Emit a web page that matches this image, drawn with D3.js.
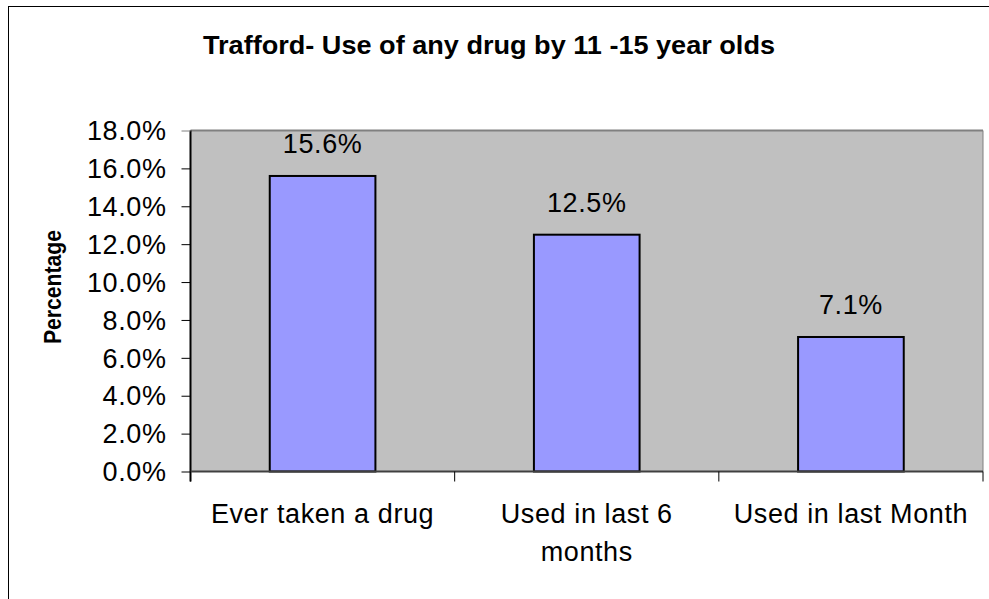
<!DOCTYPE html>
<html>
<head>
<meta charset="utf-8">
<script src="https://cdn.jsdelivr.net/npm/d3@7"></script>
<style>
  html, body { margin: 0; padding: 0; background: #fff; }
  svg { display: block; font-family: Arial, "Liberation Sans", sans-serif; }
</style>
</head>
<body>
<svg id="chart" width="989" height="599"></svg>
<script>
// Survey results: share of 11-15 year olds reporting drug use
const categories = [["Ever taken a drug"], ["Used in last 6", "months"], ["Used in last Month"]];
const values = [15.6, 12.5, 7.1];
const yTicks = [0, 2, 4, 6, 8, 10, 12, 14, 16, 18];
const titleText = "Trafford- Use of any drug by 11 -15 year olds";
const yTitle = "Percentage";

const svg = d3.select("#chart");
const plot = { left: 190.5, top: 130.5, right: 983, bottom: 471.5 };
const LS = "0.6px";

// Outer chart frame (extends past the right and bottom edges)
svg.append("rect")
  .attr("x", 8.5).attr("y", 6.5)
  .attr("width", 1000).attr("height", 700)
  .attr("fill", "#fff").attr("stroke", "#000").attr("stroke-width", 1);

const x = d3.scaleBand()
  .domain(d3.range(categories.length))
  .range([plot.left, plot.right])
  .paddingInner(0.6)
  .paddingOuter(0.3);

const y = d3.scaleLinear().domain([0, 18]).range([plot.bottom, plot.top]);

// Plot area background
svg.append("rect")
  .attr("x", plot.left).attr("y", plot.top)
  .attr("width", plot.right - plot.left).attr("height", plot.bottom - plot.top)
  .attr("fill", "#c0c0c0");

// Plot area top and right border
svg.append("line")
  .attr("x1", plot.left).attr("x2", plot.right)
  .attr("y1", plot.top).attr("y2", plot.top)
  .attr("stroke", "#808080").attr("stroke-width", 2);
svg.append("line")
  .attr("x1", plot.right).attr("x2", plot.right)
  .attr("y1", plot.top).attr("y2", plot.bottom)
  .attr("stroke", "#808080").attr("stroke-width", 1);

// Bars
svg.append("g").selectAll("rect")
  .data(values)
  .join("rect")
  .attr("x", (d, i) => x(i))
  .attr("y", d => y(d))
  .attr("width", x.bandwidth())
  .attr("height", d => y(0) - y(d))
  .attr("fill", "#9999ff")
  .attr("stroke", "#000")
  .attr("stroke-width", 2);

// Value labels
svg.append("g").selectAll("text")
  .data(values)
  .join("text")
  .attr("x", (d, i) => x(i) + x.bandwidth() / 2)
  .attr("y", d => y(d) - 23)
  .attr("text-anchor", "middle")
  .attr("font-size", 27)
  .attr("letter-spacing", LS)
  .attr("fill", "#000")
  .text(d => d.toFixed(1) + "%");

// Y axis
const yAxis = d3.axisLeft(y)
  .tickValues(yTicks)
  .tickSize(9)
  .tickPadding(15)
  .tickFormat(d => d.toFixed(1) + "%");
const gy = svg.append("g")
  .attr("transform", `translate(${plot.left},0)`)
  .call(yAxis);
gy.select(".domain").attr("stroke", "#000").attr("stroke-width", 2)
  .attr("d", `M0,${plot.top}V${plot.bottom + 10}`);
gy.selectAll(".tick line").attr("stroke", "#000");
gy.selectAll(".tick text")
  .attr("font-size", 27)
  .attr("letter-spacing", LS)
  .attr("font-family", "Arial, 'Liberation Sans', sans-serif")
  .attr("fill", "#000")
  .attr("dy", "0.34em");
gy.selectAll(".tick").filter(d => d === 18).select("line").attr("stroke", "#808080");

// X axis baseline and category dividers
const gx = svg.append("g");
gx.append("line")
  .attr("x1", plot.left).attr("x2", plot.right)
  .attr("y1", plot.bottom).attr("y2", plot.bottom)
  .attr("stroke", "#404040").attr("stroke-width", 2);
const step = x.step();
gx.selectAll("line.div")
  .data(d3.range(categories.length + 1))
  .join("line")
  .attr("class", "div")
  .attr("x1", i => plot.left + i * step)
  .attr("x2", i => plot.left + i * step)
  .attr("y1", plot.bottom)
  .attr("y2", plot.bottom + 10)
  .attr("stroke", "#000");

// Category labels
const cl = svg.append("g").selectAll("text")
  .data(categories)
  .join("text")
  .attr("x", (d, i) => x(i) + x.bandwidth() / 2)
  .attr("y", 523)
  .attr("text-anchor", "middle")
  .attr("font-size", 27)
  .attr("letter-spacing", LS)
  .attr("fill", "#000");
cl.selectAll("tspan")
  .data(d => d)
  .join("tspan")
  .attr("x", function () { return d3.select(this.parentNode).attr("x"); })
  .attr("dy", (d, i) => i === 0 ? 0 : 37.5)
  .text(d => d);

// Title
svg.append("text")
  .attr("x", 489)
  .attr("y", 54)
  .attr("text-anchor", "middle")
  .attr("font-size", 25)
  .attr("font-weight", "bold")
  .attr("textLength", 572)
  .attr("lengthAdjust", "spacingAndGlyphs")
  .text(titleText);

// Y axis title
svg.append("text")
  .attr("transform", "translate(61,287) rotate(-90)")
  .attr("text-anchor", "middle")
  .attr("font-size", 23)
  .attr("font-weight", "bold")
  .attr("textLength", 114)
  .attr("lengthAdjust", "spacingAndGlyphs")
  .text(yTitle);
</script>
</body>
</html>
